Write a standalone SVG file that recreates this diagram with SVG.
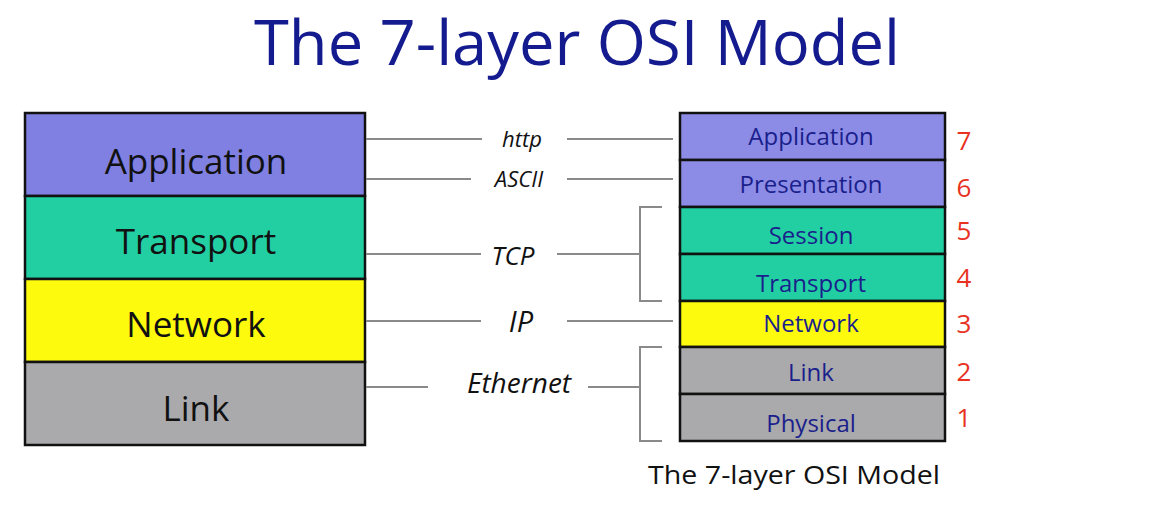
<svg xmlns="http://www.w3.org/2000/svg" width="1157" height="505" viewBox="0 0 1157 505">
<style>
text{font-family:"Open Sans","Liberation Sans",sans-serif;text-anchor:middle}
.box{stroke:#111;stroke-width:2.5}
.app{fill:#7f80e1}
.app2{fill:#8c8ce6}
.tr{fill:#22cfa2}
.net{fill:#fdfa0e}
.lnk{fill:#aaa9ab}
.lt{font-size:35px;fill:#111}
.rt{font-size:24px;fill:#1a1f8c}
.num{font-size:26px;fill:#e8321f}
.con line,.con path{stroke:#8a8a8a;stroke-width:2;fill:none}
.cl{font-style:italic;fill:#111}
</style>
<rect width="1157" height="505" fill="#fff"/>
<text x="577" y="65" font-size="62" fill="#141b8f" textLength="646" lengthAdjust="spacingAndGlyphs">The 7-layer OSI Model</text>
<g id="left-application"><rect class="box app" x="25" y="113" width="340" height="83"/><text class="lt" x="196" y="174">Application</text></g>
<g id="left-transport"><rect class="box tr" x="25" y="196" width="340" height="83"/><text class="lt" x="196" y="254">Transport</text></g>
<g id="left-network"><rect class="box net" x="25" y="279" width="340" height="83"/><text class="lt" x="196" y="337">Network</text></g>
<g id="left-link"><rect class="box lnk" x="25" y="362" width="340" height="83"/><text class="lt" x="196" y="421">Link</text></g>
<g id="r7"><rect class="box app2" x="680" y="113" width="265" height="47"/><text class="rt" x="811" y="145">Application</text><text class="num" x="964" y="150">7</text></g>
<g id="r6"><rect class="box app2" x="680" y="160" width="265" height="47"/><text class="rt" x="811" y="193">Presentation</text><text class="num" x="964" y="197">6</text></g>
<g id="r5"><rect class="box tr" x="680" y="207" width="265" height="47"/><text class="rt" x="811" y="244">Session</text><text class="num" x="964" y="240">5</text></g>
<g id="r4"><rect class="box tr" x="680" y="254" width="265" height="47"/><text class="rt" x="811" y="292">Transport</text><text class="num" x="964" y="287">4</text></g>
<g id="r3"><rect class="box net" x="680" y="301" width="265" height="46"/><text class="rt" x="811" y="332">Network</text><text class="num" x="964" y="333">3</text></g>
<g id="r2"><rect class="box lnk" x="680" y="347" width="265" height="47"/><text class="rt" x="811" y="381">Link</text><text class="num" x="964" y="381">2</text></g>
<g id="r1"><rect class="box lnk" x="680" y="394" width="265" height="47"/><text class="rt" x="811" y="432">Physical</text><text class="num" x="964" y="427">1</text></g>
<g id="connectors" class="con">
<line x1="366" y1="139" x2="482" y2="139"/><line x1="567" y1="139" x2="673" y2="139"/>
<line x1="366" y1="179" x2="471" y2="179"/><line x1="567" y1="179" x2="673" y2="179"/>
<line x1="366" y1="254" x2="481" y2="254"/><line x1="557" y1="254" x2="640" y2="254"/>
<path d="M662 207H640V301H662"/>
<line x1="366" y1="321" x2="481" y2="321"/><line x1="567" y1="321" x2="673" y2="321"/>
<line x1="366" y1="387" x2="428" y2="387"/><line x1="588" y1="387" x2="640" y2="387"/>
<path d="M662 347H640V441H662"/>
</g>
<g id="labels">
<text class="cl" x="522" y="147" font-size="22">http</text>
<text class="cl" x="519" y="187" font-size="22">ASCII</text>
<text class="cl" x="513" y="265" font-size="26">TCP</text>
<text class="cl" x="521" y="332" font-size="29">IP</text>
<text class="cl" x="519" y="393" font-size="28">Ethernet</text>
</g>
<text x="794" y="484" font-size="26" fill="#111" textLength="292" lengthAdjust="spacingAndGlyphs">The 7-layer OSI Model</text>
</svg>
